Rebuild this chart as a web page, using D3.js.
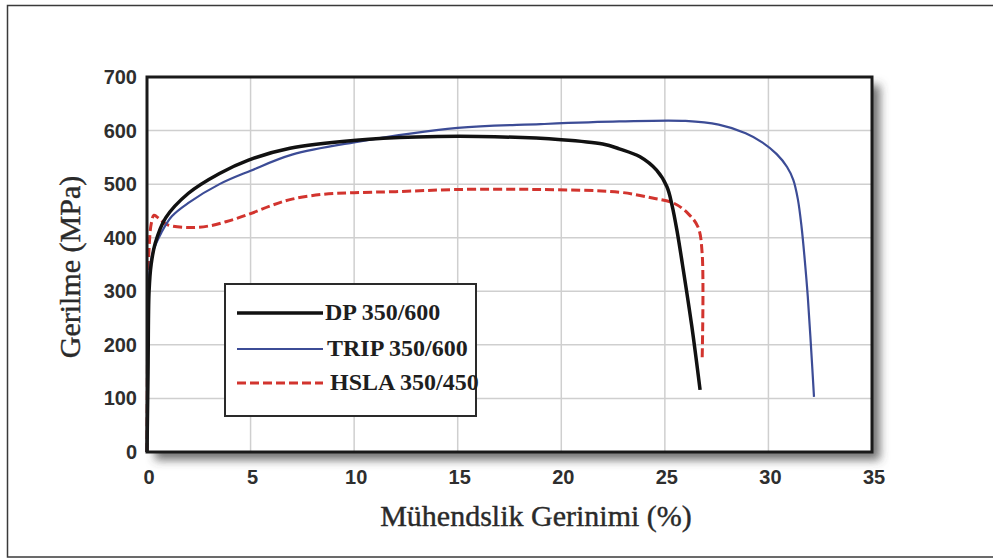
<!DOCTYPE html>
<html>
<head>
<meta charset=utf-8>
<title>Gerilme - Gerinim</title>
<style>
body{margin: 0; background: #fff;}
#chart{display: block;}
.tick-y, .tick-x{font-family: 'Liberation Sans', Arial, sans-serif; font-weight: bold; font-size: 20px; fill: #2e2e2e;}
.title{font-family: 'Liberation Serif', 'Times New Roman', serif; font-size: 30px; fill: #2a2a2a; stroke: #2a2a2a; stroke-width: 0.4px;}
.legend-text{font-family: 'Liberation Serif', 'Times New Roman', serif; font-weight: bold; font-size: 24px; fill: #1e1e1e;}
#gridlines line{stroke: #cfcfcf; stroke-width: 1.5px;}
</style>
</head>
<body>
<svg id=chart width=993 height=558></svg>
<script src='https://cdn.jsdelivr.net/npm/d3@7'></script>
<script>
//data: strain (%) and stress (MPa)
var dpStrain   = [0, 0.05, 0.1, 0.2, 0.4, 0.9, 2.0, 3.5, 4.9, 6.9, 10.1, 13, 16, 20, 22, 22.8, 23.8, 24.6, 25.1, 25.35, 25.6, 25.85, 26.3, 26.7];
var dpStress   = [0, 150, 300, 350, 390, 437, 483, 520, 545, 567, 582, 588, 589, 583, 575, 566, 551, 526, 495, 460, 410, 350, 235, 116];

var tripStrain = [0, 0.05, 0.1, 0.3, 0.7, 1.2, 2.0, 3.5, 5, 7, 10, 15, 19, 22.8, 26.0, 27.6, 28.9, 29.7, 30.4, 30.9, 31.2, 31.42, 31.6, 31.75, 31.9, 32.05, 32.2];
var tripStress = [0, 200, 330, 375, 410, 440, 465, 500, 525, 555, 578, 605, 612, 617, 618, 611, 595, 578, 556, 532, 508, 472, 420, 360, 290, 200, 103];

var hslaStrain = [0, 0.02, 0.05, 0.1, 0.2, 0.34, 0.6, 1.0, 2.0, 3.0, 4.0, 5.0, 6.0, 7.0, 8.5, 10, 12, 15, 18.9, 22.8, 24.4, 25.4, 26.1, 26.6, 26.8, 26.8];
var hslaStress = [0, 150, 300, 380, 425, 442, 435, 424, 419, 422, 432, 445, 460, 472, 481, 484, 486, 490, 490, 485, 474, 465, 446, 420, 371, 172];

var xTicks = [0, 5, 10, 15, 20, 25, 30, 35];
var yTicks = [0, 100, 200, 300, 400, 500, 600, 700];
var legendLabels = ['DP 350/600', 'TRIP 350/600', 'HSLA 350/450'];

var svg = d3.select('#chart');

//plot area in page pixels
var plot = {left: 147, right: 872, top: 77, bottom: 452};

var x = d3.scaleLinear().domain([0, 35]).range([plot.left, plot.right]);
var y = d3.scaleLinear().domain([0, 700]).range([plot.bottom, plot.top]);

//outer frame of the figure
svg.append('rect')
    .attr('x', 7.5).attr('y', 5.5)
    .attr('width', 1000).attr('height', 551.5)
    .attr('fill', 'none')
    .attr('stroke', '#3a3a3a')
    .attr('stroke-width', 1.5);

//drop shadow behind the plot box
var defs = svg.append('defs');
defs.append('filter')
    .attr('id', 'shadow')
    .attr('x', '-10%').attr('y', '-10%')
    .attr('width', '130%').attr('height', '130%')
  .append('feDropShadow')
    .attr('dx', 8).attr('dy', 8)
    .attr('stdDeviation', 5)
    .attr('flood-color', '#444')
    .attr('flood-opacity', 0.75);

svg.append('rect')
    .attr('x', plot.left).attr('y', plot.top)
    .attr('width', plot.right - plot.left)
    .attr('height', plot.bottom - plot.top)
    .attr('fill', '#fff')
    .attr('filter', 'url(#shadow)');

//gridlines
var grid = svg.append('g').attr('id', 'gridlines');
grid.selectAll('line.v')
    .data(xTicks.slice(1, -1))
  .enter().append('line')
    .attr('class', 'v')
    .attr('x1', d => x(d)).attr('x2', d => x(d))
    .attr('y1', plot.top).attr('y2', plot.bottom);
grid.selectAll('line.h')
    .data(yTicks.slice(1, -1))
  .enter().append('line')
    .attr('class', 'h')
    .attr('x1', plot.left).attr('x2', plot.right)
    .attr('y1', d => y(d)).attr('y2', d => y(d));

//curves
var line = d3.line()
    .x(d => x(d[0]))
    .y(d => y(d[1]))
    .curve(d3.curveCatmullRom.alpha(0.5));

var series = [
  {name: legendLabels[0], pts: d3.zip(dpStrain, dpStress), color: '#111', width: 3.5, dash: null},
  {name: legendLabels[1], pts: d3.zip(tripStrain, tripStress), color: '#3c4c96', width: 2.2, dash: null},
  {name: legendLabels[2], pts: d3.zip(hslaStrain, hslaStress), color: '#d2342e', width: 3, dash: '9,4'}
];

//draw order: HSLA under, then TRIP, then DP
[series[2], series[1], series[0]].forEach(function(s){
  svg.append('path')
      .datum(s.pts)
      .attr('fill', 'none')
      .attr('stroke', s.color)
      .attr('stroke-width', s.width)
      .attr('stroke-dasharray', s.dash)
      .attr('stroke-linejoin', 'round')
      .attr('d', line);
});

//plot box border
svg.append('rect')
    .attr('x', plot.left).attr('y', plot.top)
    .attr('width', plot.right - plot.left)
    .attr('height', plot.bottom - plot.top)
    .attr('fill', 'none')
    .attr('stroke', '#1a1a1a')
    .attr('stroke-width', 3);

//tick labels
svg.append('g').selectAll('text')
    .data(yTicks)
  .enter().append('text')
    .attr('class', 'tick-y')
    .attr('text-anchor', 'end')
    .attr('x', 137)
    .attr('y', d => y(d) + 7)
    .text(d => d);

svg.append('g').selectAll('text')
    .data(xTicks)
  .enter().append('text')
    .attr('class', 'tick-x')
    .attr('text-anchor', 'middle')
    .attr('x', d => x(d) + 2)
    .attr('y', 484)
    .text(d => d);

//axis titles
svg.append('text')
    .attr('class', 'title')
    .attr('text-anchor', 'middle')
    .attr('x', 536)
    .attr('y', 526)
    .text('Mühendslik Gerinimi (%)');

svg.append('text')
    .attr('class', 'title')
    .attr('text-anchor', 'middle')
    .attr('transform', 'translate(80,267) rotate(-90)')
    .text('Gerilme (MPa)');

//legend
var legend = svg.append('g');
legend.append('rect')
    .attr('x', 225).attr('y', 284)
    .attr('width', 251).attr('height', 132)
    .attr('fill', '#fff')
    .attr('stroke', '#2a2a2a')
    .attr('stroke-width', 2);

var rowY = [313, 349, 383];
var textX = [325, 327, 330];
series.forEach(function(s, i){
  legend.append('line')
      .attr('x1', 237).attr('x2', 323)
      .attr('y1', rowY[i]).attr('y2', rowY[i])
      .attr('stroke', s.color)
      .attr('stroke-width', s.width)
      .attr('stroke-dasharray', s.dash);
  legend.append('text')
      .attr('class', 'legend-text')
      .attr('x', textX[i])
      .attr('y', rowY[i] + 7)
      .text(s.name);
});
</script>
</body>
</html>
